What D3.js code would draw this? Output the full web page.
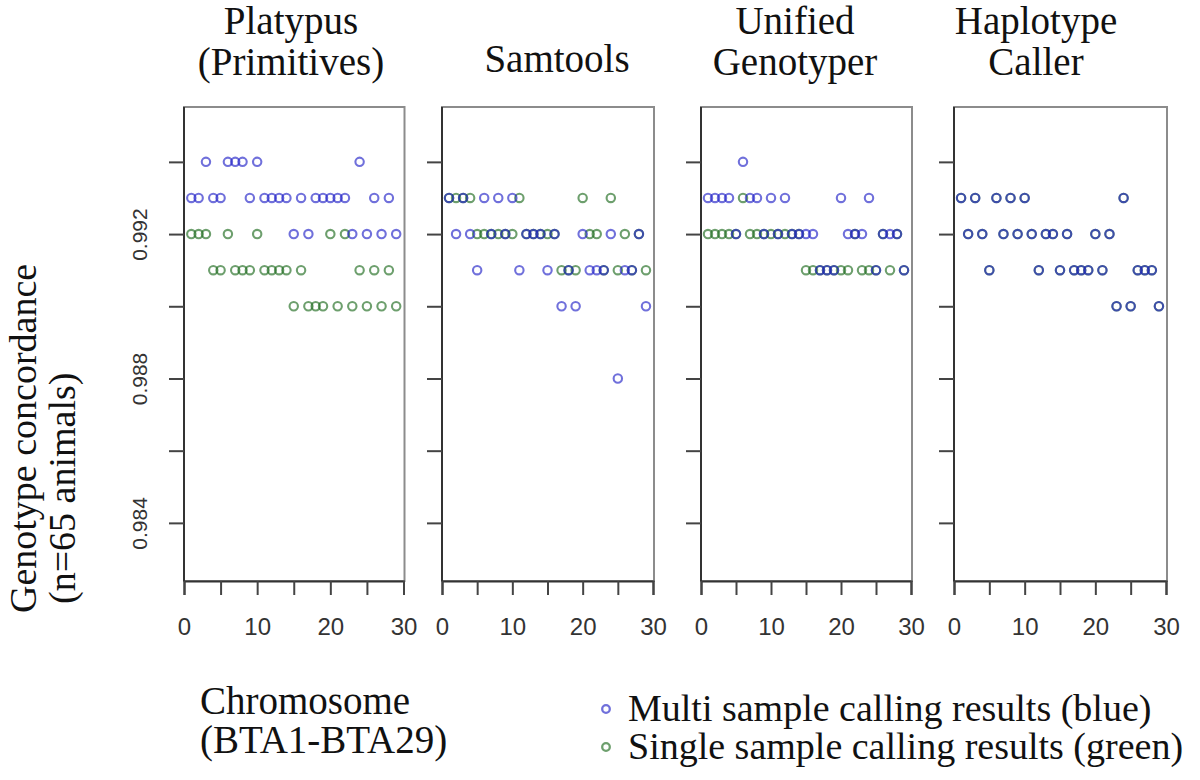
<!DOCTYPE html>
<html>
<head>
<meta charset="utf-8">
<script src="https://cdn.jsdelivr.net/npm/d3@7"></script>
<style>
  body { margin: 0; background: #fff; }
  svg { display: block; }
  .serif { font-family: "Liberation Serif", "Times New Roman", serif; fill: #111; }
  .tick text { font-family: "Liberation Sans", Arial, sans-serif; fill: #333; }
</style>
</head>
<body>
<svg id="chart" width="1200" height="780"></svg>
<script>
// panel titles (one entry per caller)
const titles = [["Platypus", "(Primitives)"], ["Samtools"], ["Unified", "Genotyper"], ["Haplotype", "Caller"]];

// each row: [concordance, chromosomes that sit at that value]
const platypusMulti = [
  [0.994, [3, 6, 7, 8, 10, 24]],
  [0.993, [1, 2, 4, 5, 9, 11, 12, 13, 14, 16, 18, 19, 20, 21, 22, 26, 28]],
  [0.992, [15, 17, 23, 25, 27, 29]]
];
const platypusSingle = [
  [0.992, [1, 2, 3, 6, 10, 20, 22]],
  [0.991, [4, 5, 7, 8, 9, 11, 12, 13, 14, 16, 24, 26, 28]],
  [0.990, [15, 17, 18, 19, 21, 23, 25, 27, 29]]
];
const samtoolsMulti = [
  [0.993, [1, 3, 6, 8, 10]],
  [0.992, [2, 4, 7, 9, 12, 13, 14, 16, 20, 24, 28]],
  [0.991, [5, 11, 15, 18, 21, 22, 23, 26, 27]],
  [0.990, [17, 19, 29]],
  [0.988, [25]]
];
const samtoolsSingle = [
  [0.993, [1, 2, 3, 4, 11, 20, 24]],
  [0.992, [5, 6, 7, 8, 9, 10, 12, 13, 14, 15, 16, 21, 22, 26, 28]],
  [0.991, [17, 18, 19, 23, 25, 27, 29]]
];
const unifiedMulti = [
  [0.994, [6]],
  [0.993, [1, 2, 3, 4, 7, 8, 10, 12, 20, 24]],
  [0.992, [5, 9, 11, 13, 14, 15, 16, 21, 22, 23, 26, 27, 28]],
  [0.991, [17, 18, 19, 25, 29]]
];
const unifiedSingle = [
  [0.993, [6]],
  [0.992, [1, 2, 3, 4, 5, 7, 8, 9, 10, 11, 12, 13, 14, 22, 26, 28]],
  [0.991, [15, 16, 17, 18, 19, 20, 21, 23, 24, 25, 27, 29]]
];
const haplotypeMulti = [
  [0.993, [1, 3, 6, 8, 10, 24]],
  [0.992, [2, 4, 7, 9, 11, 13, 14, 16, 20, 22]],
  [0.991, [5, 12, 15, 17, 18, 19, 21, 26, 27, 28]],
  [0.990, [23, 25, 29]]
];
const haplotypeSingle = [
  [0.993, [1, 3, 6, 8, 10, 24]],
  [0.992, [2, 4, 7, 9, 11, 13, 14, 16, 20, 22]],
  [0.991, [5, 12, 15, 17, 18, 19, 21, 26, 27, 28]],
  [0.990, [23, 25, 29]]
];

const yTicks = [0.984, 0.986, 0.988, 0.990, 0.992, 0.994];
const yTickLabels = ["0.984", "", "0.988", "", "0.992", ""];
const xTicks = [0, 5, 10, 15, 20, 25, 30];
const xTickLabels = ["0", "", "10", "", "20", "", "30"];

const legendLabels = ["Multi sample calling results (blue)", "Single sample calling results (green)"];
const xTitle = ["Chromosome", "(BTA1-BTA29)"];
const yTitle = ["Genotype concordance", "(n=65 animals)"];

const multiSeries = [platypusMulti, samtoolsMulti, unifiedMulti, haplotypeMulti];
const singleSeries = [platypusSingle, samtoolsSingle, unifiedSingle, haplotypeSingle];

const blue = "#2323c8";
const green = "#1f6b1f";
const ptRadius = 4.2;

// layout
const panelLeft = [184, 442, 701, 954];
const panelRight = [403.5, 653, 911, 1166];
const titleX = [291, 557, 795, 1036];
const boxTop = 107, boxBottom = 581;

const svg = d3.select("#chart");
svg.append("rect").attr("width", 1200).attr("height", 780).attr("fill", "#fff");

const yScale = d3.scaleLinear().domain([0.98239, 0.99552]).range([boxBottom, boxTop]);

const flatten = rows => rows.flatMap(r => r[1].map(c => ({ x: c, y: r[0] })));

titles.forEach((t, i) => {
  const xScale = d3.scaleLinear().domain([0, 30]).range([panelLeft[i], panelRight[i]]);
  const g = svg.append("g");

  // frame
  g.append("rect")
    .attr("x", xScale(0)).attr("y", boxTop)
    .attr("width", xScale(30) - xScale(0) + 1).attr("height", boxBottom - boxTop)
    .attr("fill", "none").attr("stroke", "#8c8c8c").attr("stroke-width", 2);

  // points: single (green) under multi (blue)
  [[singleSeries[i], green], [multiSeries[i], blue]].forEach(([rows, col]) => {
    g.append("g").selectAll("circle")
      .data(flatten(rows))
      .join("circle")
      .attr("cx", d => xScale(d.x))
      .attr("cy", d => yScale(d.y))
      .attr("r", ptRadius)
      .attr("fill", "none")
      .attr("stroke", col)
      .attr("stroke-opacity", 0.65)
      .attr("stroke-width", 2.1);
  });

  // y axis
  const yAxis = g.append("g")
    .attr("transform", `translate(${xScale(0)},0)`)
    .call(d3.axisLeft(yScale).tickValues(yTicks).tickSize(15).tickPadding(8)
      .tickFormat((d, k) => i === 0 ? yTickLabels[k] : ""));
  yAxis.select(".domain").attr("d", `M0,${boxTop}V${boxBottom}`).attr("stroke", "#333").attr("stroke-width", 2);
  yAxis.selectAll(".tick line").attr("stroke", "#444").attr("stroke-width", 2);
  yAxis.selectAll(".tick text")
    .attr("font-size", 21)
    .attr("transform", "rotate(-90)")
    .attr("x", 0).attr("y", -37)
    .attr("dy", 0)
    .attr("text-anchor", "middle");

  // x axis
  const xAxis = g.append("g")
    .attr("transform", `translate(0,${boxBottom})`)
    .call(d3.axisBottom(xScale).tickValues(xTicks).tickSize(14).tickPadding(35)
      .tickFormat((d, k) => xTickLabels[k]));
  xAxis.select(".domain").attr("stroke", "#333").attr("stroke-width", 2);
  xAxis.selectAll(".tick line").attr("stroke", "#444").attr("stroke-width", 2);
  xAxis.selectAll(".tick text").attr("font-size", 24).attr("dy", "0.2em");

  // title
  const lines = t.length === 2 ? [34, 75] : [72];
  t.forEach((s, k) => {
    svg.append("text").attr("class", "serif")
      .attr("x", titleX[i]).attr("y", lines[k])
      .attr("text-anchor", "middle").attr("font-size", 39)
      .text(s);
  });
});

// y title
svg.append("text").attr("class", "serif")
  .attr("transform", "translate(36,613) rotate(-90)")
  .attr("font-size", 38).text(yTitle[0]);
svg.append("text").attr("class", "serif")
  .attr("transform", "translate(75,604) rotate(-90)")
  .attr("font-size", 38).text(yTitle[1]);

// x title
svg.selectAll(".xtitle")
  .data(xTitle)
  .join("text")
  .attr("class", "serif")
  .attr("x", 200)
  .attr("y", (d, k) => 714 + k * 39)
  .attr("font-size", 39)
  .text(d => d);

// legend
const legend = svg.append("g").attr("transform", "translate(606,0)");
legend.selectAll("circle")
  .data(legendLabels)
  .join("circle")
  .attr("cx", 0)
  .attr("cy", (d, k) => 709 + k * 38)
  .attr("r", ptRadius - 0.4)
  .attr("fill", "none")
  .attr("stroke", (d, k) => k === 0 ? blue : green)
  .attr("stroke-opacity", 0.65)
  .attr("stroke-width", 2.3);
legend.selectAll("text")
  .data(legendLabels)
  .join("text")
  .attr("class", "serif")
  .attr("x", 22)
  .attr("y", (d, k) => 721 + k * 38)
  .attr("font-size", 38)
  .text(d => d);
</script>
</body>
</html>
